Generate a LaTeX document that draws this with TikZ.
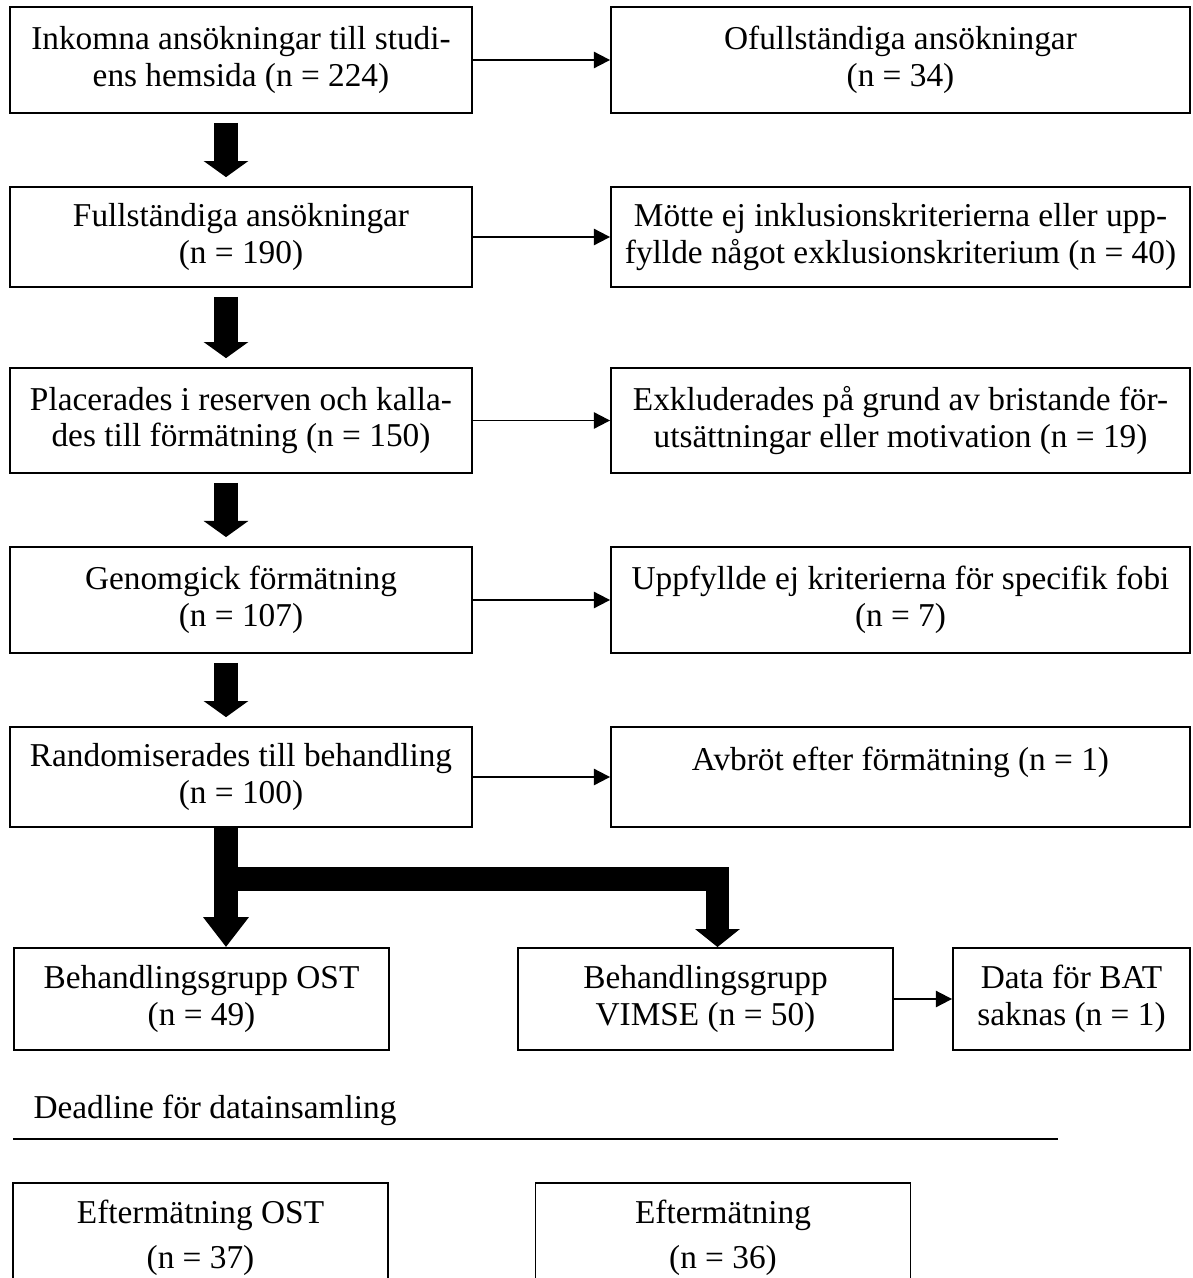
\documentclass[tikz,border=0pt]{standalone}
\usepackage{fontspec}
\setmainfont{Liberation Serif}
\usetikzlibrary{positioning, arrows.meta}

\begin{document}
\begin{tikzpicture}[x=0.36pt, y=-0.36pt,
    font=\fontsize{12}{13.2}\selectfont,
    box/.style={draw, line width=0.7pt, align=center, inner sep=0pt},
    leftbox/.style={box, minimum width=166.3pt},
    rightbox/.style={box, minimum width=208.4pt},
    groupbox/.style={box, minimum width=135pt},
    arr/.style={line width=0.7pt, -{Triangle[length=5.8pt, width=5.8pt]}},
    bigarr/.style={line width=8.3pt, -{Triangle[length=5.8pt, width=15.8pt]}}]
                \useasboundingbox (0,0) rectangle (1192,1278);
                \clip (0,0) rectangle (1192,1278);
                % left column
                \node[leftbox, minimum height=38.2pt] (L1) at (241,60) {Inkomna ansökningar till studi-\\ens hemsida (n = 224)};
                \node[leftbox, minimum height=36pt] (L2) at (241,237) {Fullständiga ansökningar\\(n = 190)};
                \node[leftbox, minimum height=37.8pt] (L3) at (241,420.5) {Placerades i reserven och kalla-\\des till förmätning (n = 150)};
                \node[leftbox, minimum height=38.2pt] (L4) at (241,600) {Genomgick förmätning\\(n = 107)};
                \node[leftbox, minimum height=36pt] (L5) at (241,777) {Randomiserades till behandling\\(n = 100)};
                % right column
                \node[rightbox, minimum height=38.2pt] (R1) at (900.5,60) {Ofullständiga ansökningar\\(n = 34)};
                \node[rightbox, minimum height=36pt] (R2) at (900.5,237) {Mötte ej inklusionskriterierna eller upp-\\fyllde något exklusionskriterium (n = 40)};
                \node[rightbox, minimum height=37.8pt] (R3) at (900.5,420.5) {Exkluderades på grund av bristande för-\\utsättningar eller motivation (n = 19)};
                \node[rightbox, minimum height=38.2pt] (R4) at (900.5,600) {Uppfyllde ej kriterierna för specifik fobi\\(n = 7)};
                \node[rightbox, minimum height=36pt] (R5) at (900.5,777) {Avbröt efter förmätning (n = 1)\\\mbox{}};
                % groups
                \node[groupbox, minimum height=36.7pt] (OST) at (201.5,999) {Behandlingsgrupp OST\\(n = 49)};
                \node[groupbox, minimum height=36.7pt] (VIMSE) at (705.5,999) {Behandlingsgrupp\\VIMSE (n = 50)};
                \node[box, minimum width=85.3pt, minimum height=36.7pt] (BAT) at (1071.5,999) {Data för BAT\\saknas (n = 1)};
                \node[anchor=base west, inner sep=0pt] (capt) at (33,1118) {Deadline för datainsamling};
                \coordinate (lineA) at (13,1139);
                \coordinate (lineB) at (1058,1139);
                \node[groupbox, minimum height=39.6pt, font=\fontsize{12}{16.2}\selectfont] (postOST) at (200.5,1238) {Eftermätning OST\\(n = 37)};
                \node[groupbox, minimum height=39.6pt, font=\fontsize{12}{16.2}\selectfont] (postVIMSE) at (723,1238) {Eftermätning\\(n = 36)};
                \coordinate (ax) at (226,0);
                \coordinate (bx) at (717.5,0);
                \coordinate (bar) at (215,879);
                % thin arrows
                \draw[arr] (L1) -- (R1);
                \draw[arr] (L2) -- (R2);
                \draw[arr] (L3) -- (R3);
                \draw[arr] (L4) -- (R4);
                \draw[arr] (L5) -- (R5);
                \draw[arr] (VIMSE) -- (BAT);
                % thick arrows
                \draw[bigarr, shorten <=3.2pt, shorten >=3.2pt] (L1.south -| ax) -- (L2.north -| ax);
                \draw[bigarr, shorten <=3.2pt, shorten >=3.2pt] (L2.south -| ax) -- (L3.north -| ax);
                \draw[bigarr, shorten <=3.2pt, shorten >=3.2pt] (L3.south -| ax) -- (L4.north -| ax);
                \draw[bigarr, shorten <=3.2pt, shorten >=3.2pt] (L4.south -| ax) -- (L5.north -| ax);
                \draw[bigarr, -{Triangle[length=10.8pt, width=15.8pt]}] (L5.south -| ax) -- (OST.north -| ax);
                \draw[bigarr, -{Triangle[length=6.5pt, width=15.8pt]}, line join=miter] (bar) -| (VIMSE.north -| bx);
                \draw[line width=0.7pt] (lineA) -- (lineB);
            \end{tikzpicture}
\end{document}
